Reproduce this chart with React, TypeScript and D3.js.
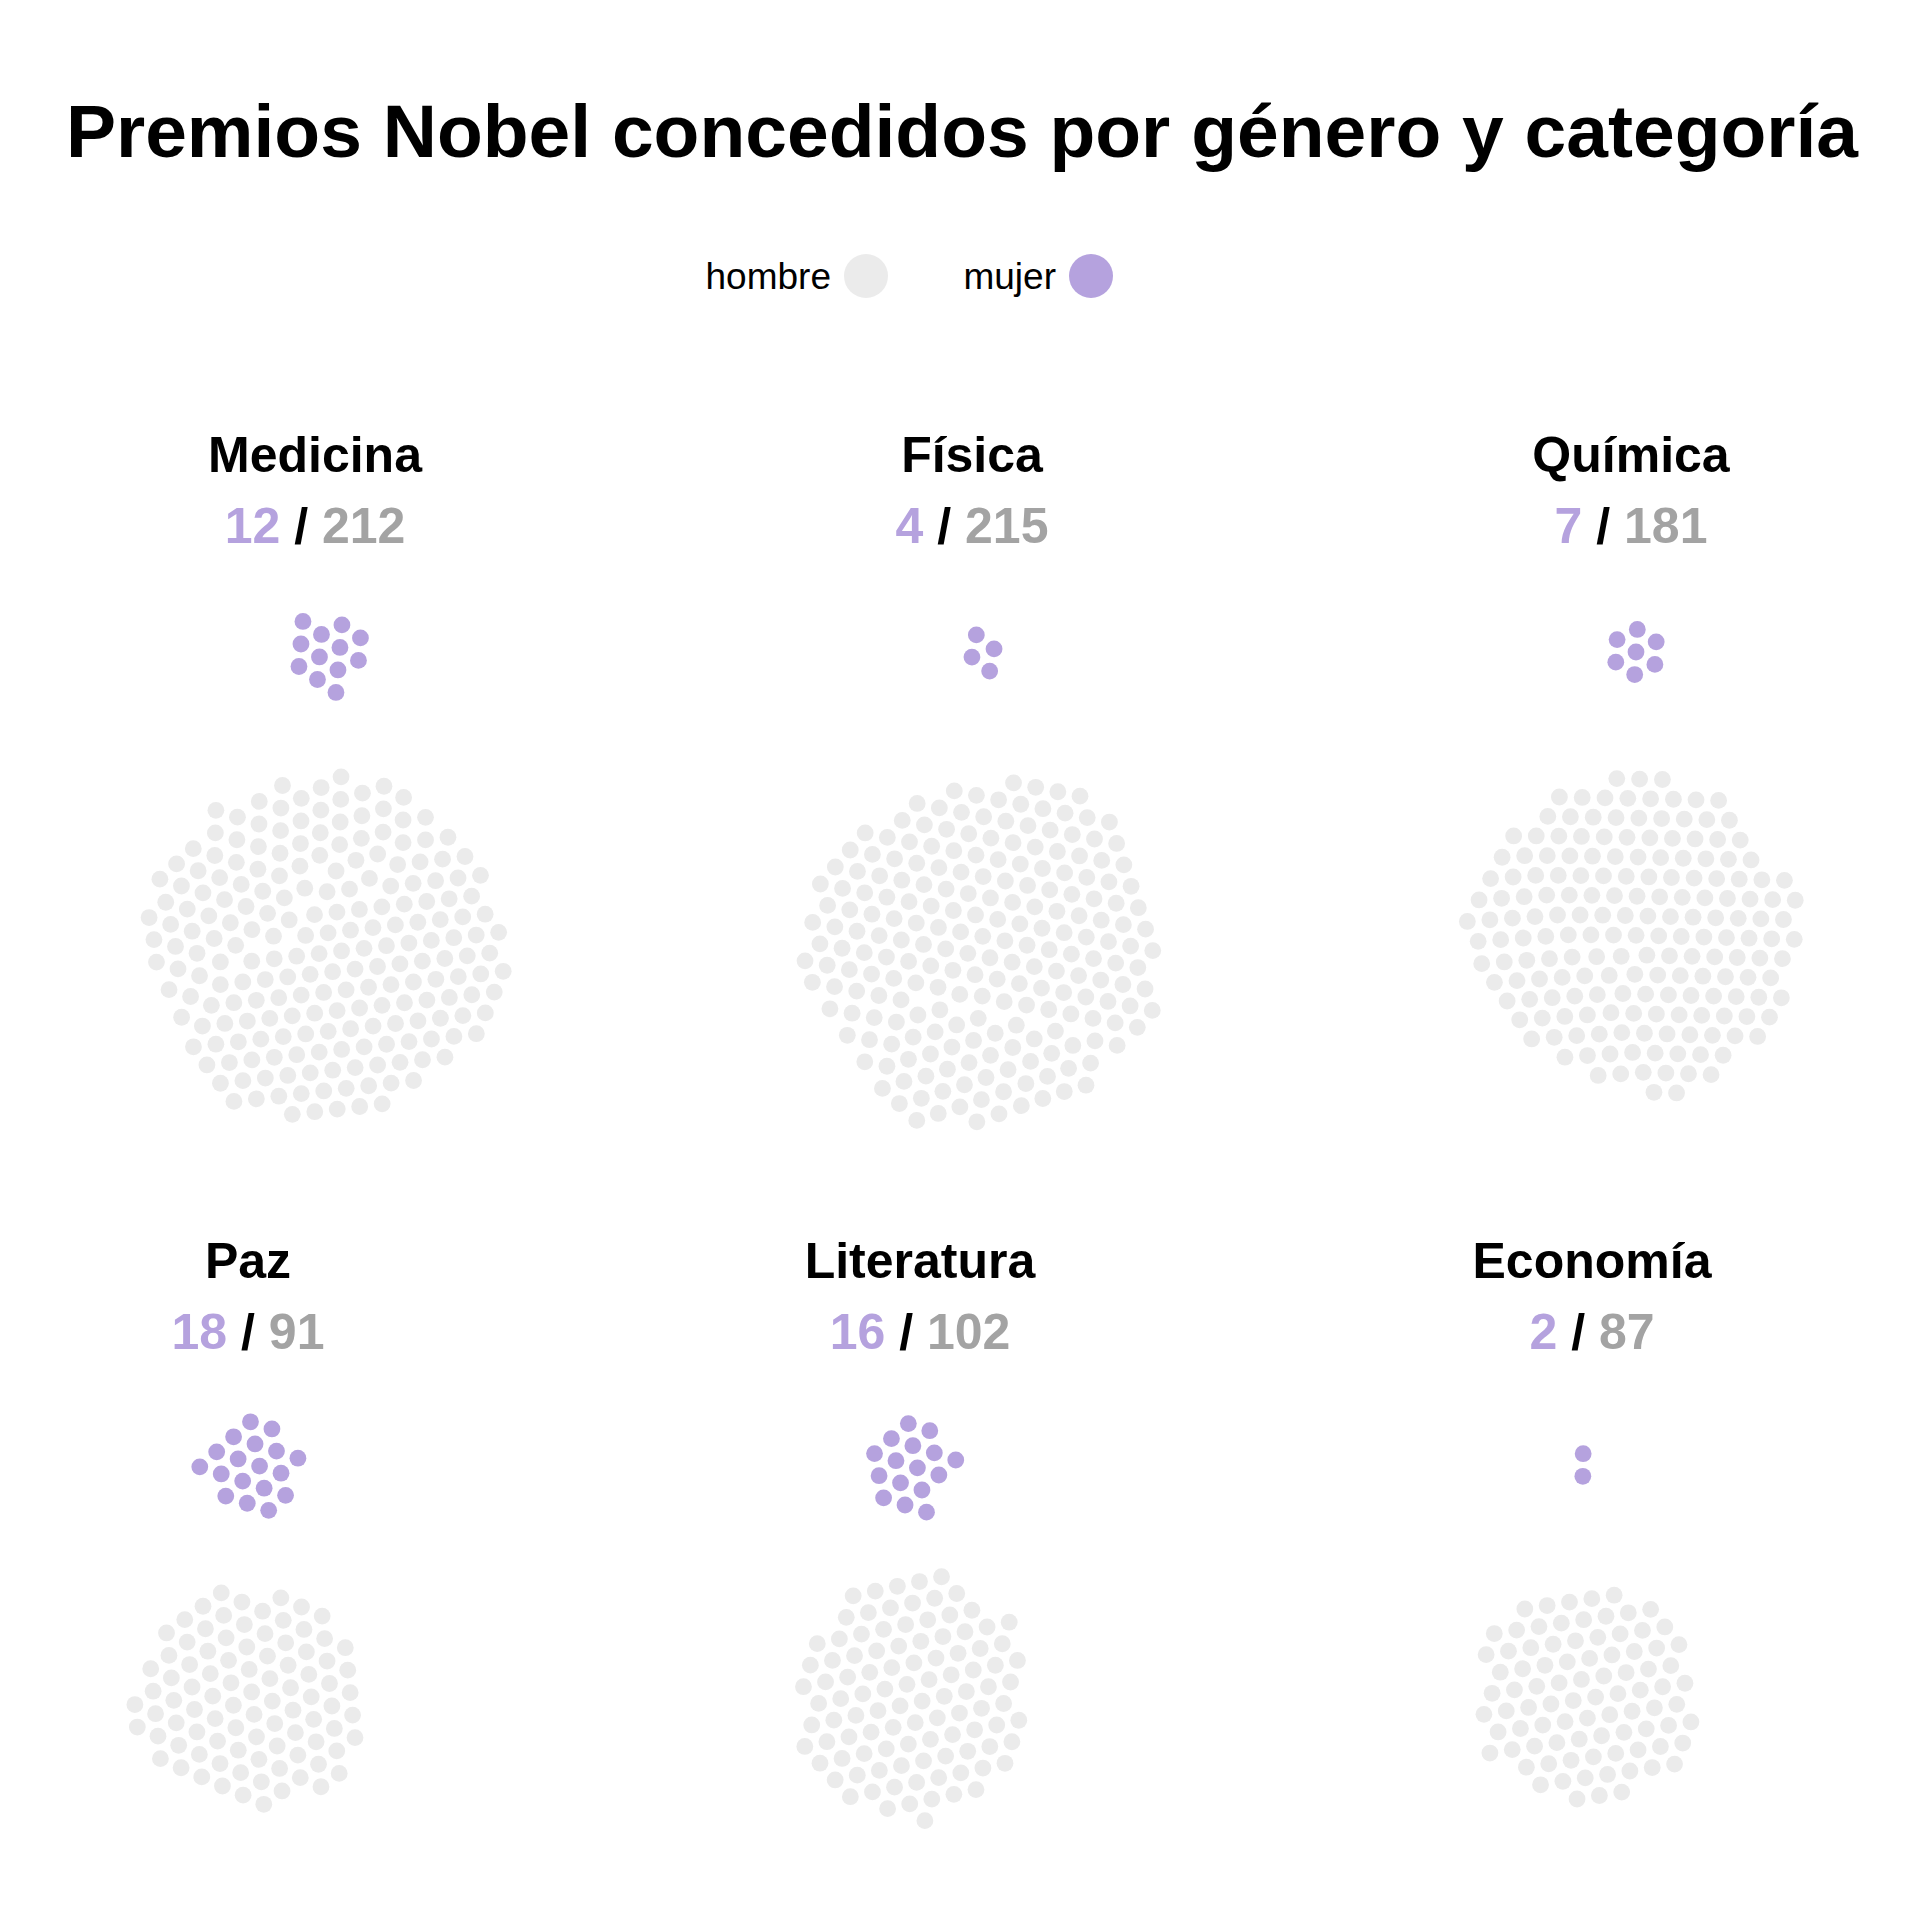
import React, { useMemo } from "react";
import * as d3 from "d3";

// ---- data ----
const categories = ["Medicina", "Física", "Química", "Paz", "Literatura", "Economía"];
const women = [12, 4, 7, 18, 16, 2];
const men = [212, 215, 181, 91, 102, 87];
const legendLabels = ["hombre", "mujer"];
const titleText = "Premios Nobel concedidos por género y categoría";

// ---- layout (positions, not data) ----
const panelLayout = [
  { tx: 315, fx: 328, fy: 653, mx: 326, my: 949, row: 0 },
  { tx: 972, fx: 983, fy: 653, mx: 984, my: 949, row: 0 },
  { tx: 1631, fx: 1636, fy: 652, mx: 1637, my: 933, row: 0 },
  { tx: 248, fx: 252, fy: 1467, mx: 251, my: 1698, row: 1 },
  { tx: 920, fx: 911, fy: 1467, mx: 912, my: 1697, row: 1 },
  { tx: 1592, fx: 1583, fy: 1465, mx: 1587, my: 1695, row: 1 },
];
const rowTitleY = [472, 1278];
const rowNumY = [543, 1349];

const W = 1920;
const H = 1920;
const DOT_R = 8.4;
const SPACING = 22.6;
const PURPLE = "#b5a2de";
const LIGHT = "#ebebeb";
const GREY_TXT = "#a3a3a3";
const FONT = "'Liberation Sans', Arial, Helvetica, sans-serif";

type Node = d3.SimulationNodeDatum & { i: number };

function packCluster(n: number, cx: number, cy: number): { x: number; y: number }[] {
  const nodes: Node[] = d3.range(n).map((i) => ({ i }));
  const sim = d3
    .forceSimulation(nodes)
    .force("x", d3.forceX(0).strength(0.08))
    .force("y", d3.forceY(0).strength(n < 3 ? 0.01 : 0.08))
    .force("collide", d3.forceCollide(SPACING / 2).iterations(4))
    .stop();
  for (let k = 0; k < 400; k++) sim.tick();
  const mx = d3.mean(nodes, (d) => d.x as number) as number;
  const my = d3.mean(nodes, (d) => d.y as number) as number;
  return nodes.map((d) => ({ x: cx + (d.x as number) - mx, y: cy + (d.y as number) - my }));
}

export default function App() {
  const clusters = useMemo(
    () =>
      categories.map((c, i) => {
        const L = panelLayout[i];
        return {
          name: c,
          w: women[i],
          m: men[i],
          women: packCluster(women[i], L.fx, L.fy),
          men: packCluster(men[i], L.mx, L.my),
          L,
        };
      }),
    []
  );

  const legendX = [866, 1091];
  const legendColors = [LIGHT, PURPLE];

  return (
    <svg
      width={W}
      height={H}
      viewBox={`0 0 ${W} ${H}`}
      style={{ position: "absolute", left: 0, top: 0, background: "#fff" }}
      fontFamily={FONT}
    >
      <rect width={W} height={H} fill="#fff" />
      <text x={962} y={157} textAnchor="middle" fontSize={75} fontWeight="bold" fill="#000">
        {titleText}
      </text>

      {legendLabels.map((l, i) => (
        <g key={l}>
          <text x={legendX[i] - 35} y={289} textAnchor="end" fontSize={37} fill="#000">
            {l}
          </text>
          <circle cx={legendX[i]} cy={276} r={22} fill={legendColors[i]} />
        </g>
      ))}

      {clusters.map((c) => (
        <g key={c.name}>
          <text
            x={c.L.tx}
            y={rowTitleY[c.L.row]}
            textAnchor="middle"
            fontSize={50}
            fontWeight="bold"
            fill="#000"
          >
            {c.name}
          </text>
          <text x={c.L.tx} y={rowNumY[c.L.row]} textAnchor="middle" fontSize={50} fontWeight="bold">
            <tspan fill={PURPLE}>{c.w}</tspan>
            <tspan fill="#000"> / </tspan>
            <tspan fill={GREY_TXT}>{c.m}</tspan>
          </text>
          {c.men.map((p, j) => (
            <circle key={"m" + j} cx={p.x} cy={p.y} r={DOT_R} fill={LIGHT} />
          ))}
          {c.women.map((p, j) => (
            <circle key={"w" + j} cx={p.x} cy={p.y} r={DOT_R} fill={PURPLE} />
          ))}
        </g>
      ))}
    </svg>
  );
}
